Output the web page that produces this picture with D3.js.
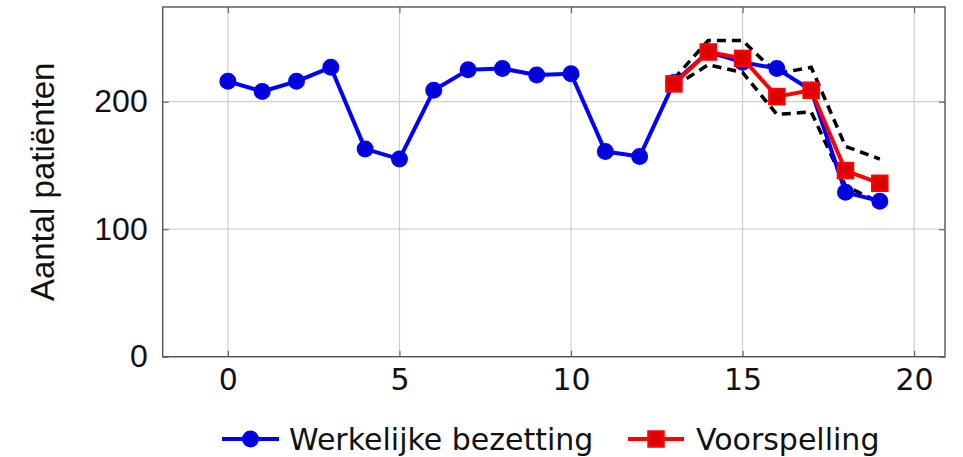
<!DOCTYPE html>
<html>
<head>
<meta charset="utf-8">
<script src="https://cdn.jsdelivr.net/npm/d3@7"></script>
<style>
  html, body { margin: 0; padding: 0; background: #fff; }
  svg { display: block; }
</style>
</head>
<body>
<svg id="chart" width="963" height="457"></svg>
<script>
// Daily bed occupancy: observed values and the forecast with its band
const dagen = [0, 1, 2, 3, 4, 5, 6, 7, 8, 9, 10, 11, 12, 13, 14, 15, 16, 17, 18, 19];
const werkelijk = [216, 208, 216, 227, 163, 155, 209, 225, 226, 221, 222, 161, 157, 215, 239, 231, 226, 209, 129, 122];
const voorspelDagen = [13, 14, 15, 16, 17, 18, 19];
const voorspelling = [214, 239, 234, 204, 209, 146, 136];
const bovengrens = [218, 248, 248, 222, 227, 165, 155];
const ondergrens = [212, 229, 223, 190, 192, 134, 121];
const xTicks = [0, 5, 10, 15, 20];
const yTicks = [0, 100, 200];

const svg = d3.select("#chart");
const plot = { left: 162.7, right: 945, top: 7, bottom: 356.7 };

const x = d3.scaleLinear().domain([-1.9, 20.9]).range([plot.left, plot.right]);
const y = d3.scaleLinear().domain([0, 274.3]).range([plot.bottom, plot.top]);

const sansNarrow = "'DejaVu Sans', sans-serif";
const sans = "'Liberation Sans', Arial, sans-serif";

// grid
const grid = svg.append("g");
grid.selectAll("line.gx").data(xTicks).join("line")
  .attr("x1", d => x(d)).attr("x2", d => x(d))
  .attr("y1", plot.top).attr("y2", plot.bottom)
  .attr("stroke", "#cfcfcf").attr("stroke-width", 1.2);
grid.selectAll("line.gy").data(yTicks).join("line")
  .attr("x1", plot.left).attr("x2", plot.right)
  .attr("y1", d => y(d)).attr("y2", d => y(d))
  .attr("stroke", "#cfcfcf").attr("stroke-width", 1.2);

// axes with inward ticks on all four sides
const tickLen = 6;
const axisColor = "#666";
svg.append("g").attr("transform", `translate(0,${plot.bottom})`)
  .call(d3.axisBottom(x).tickValues(xTicks).tickSizeInner(-tickLen).tickSizeOuter(0).tickPadding(12))
  .call(g => g.select(".domain").remove())
  .call(g => g.selectAll(".tick line").attr("stroke", axisColor).attr("stroke-width", 1.2))
  .call(g => g.selectAll(".tick text").attr("font-family", sansNarrow).attr("font-size", 30).attr("fill", "#111"));
svg.append("g").attr("transform", `translate(0,${plot.top})`)
  .call(d3.axisTop(x).tickValues(xTicks).tickSizeInner(-tickLen).tickSizeOuter(0).tickFormat(""))
  .call(g => g.select(".domain").remove())
  .call(g => g.selectAll(".tick line").attr("stroke", axisColor).attr("stroke-width", 1.2));
svg.append("g").attr("transform", `translate(${plot.left},0)`)
  .call(d3.axisLeft(y).tickValues(yTicks).tickSizeInner(-tickLen).tickSizeOuter(0).tickPadding(15))
  .call(g => g.select(".domain").remove())
  .call(g => g.selectAll(".tick line").attr("stroke", axisColor).attr("stroke-width", 1.2))
  .call(g => g.selectAll(".tick text").attr("font-family", sans).attr("font-size", 32).attr("fill", "#111"));
svg.append("g").attr("transform", `translate(${plot.right},0)`)
  .call(d3.axisRight(y).tickValues(yTicks).tickSizeInner(-tickLen).tickSizeOuter(0).tickFormat(""))
  .call(g => g.select(".domain").remove())
  .call(g => g.selectAll(".tick line").attr("stroke", axisColor).attr("stroke-width", 1.2));

svg.append("rect")
  .attr("x", plot.left).attr("y", plot.top)
  .attr("width", plot.right - plot.left).attr("height", plot.bottom - plot.top)
  .attr("fill", "none").attr("stroke", "#555").attr("stroke-width", 1.4);

// y label
svg.append("text")
  .attr("transform", `translate(54,${(plot.top + plot.bottom) / 2}) rotate(-90)`)
  .attr("text-anchor", "middle")
  .attr("font-family", sans).attr("font-size", 33).attr("fill", "#111")
  .text("Aantal patiënten");

const line = d3.line().x(d => x(d[0])).y(d => y(d[1]));

// forecast band (dashed)
[bovengrens, ondergrens].forEach(band => {
  svg.append("path")
    .datum(voorspelDagen.map((d, i) => [d, band[i]]))
    .attr("d", line).attr("fill", "none")
    .attr("stroke", "#000").attr("stroke-width", 3.5)
    .attr("stroke-dasharray", "9,6");
});

// observed
const obs = dagen.map((d, i) => [d, werkelijk[i]]);
svg.append("path").datum(obs).attr("d", line)
  .attr("fill", "none").attr("stroke", "#0000ff").attr("stroke-width", 4).attr("stroke-linejoin", "round");
svg.selectAll("circle.obs").data(obs).join("circle")
  .attr("cx", d => x(d[0])).attr("cy", d => y(d[1])).attr("r", 7.5)
  .attr("fill", "#0000d8").attr("stroke", "#0000ff").attr("stroke-width", 2);

// forecast
const fc = voorspelDagen.map((d, i) => [d, voorspelling[i]]);
svg.append("path").datum(fc).attr("d", line)
  .attr("fill", "none").attr("stroke", "#ff0000").attr("stroke-width", 4).attr("stroke-linejoin", "round");
const sq = 15;
svg.selectAll("rect.fc").data(fc).join("rect")
  .attr("x", d => x(d[0]) - sq / 2).attr("y", d => y(d[1]) - sq / 2)
  .attr("width", sq).attr("height", sq)
  .attr("fill", "#dd0000").attr("stroke", "#ff0000").attr("stroke-width", 2.5);

// legend
const ly = 439;
const leg = svg.append("g");
leg.append("line").attr("x1", 222).attr("x2", 279).attr("y1", ly).attr("y2", ly)
  .attr("stroke", "#0000ff").attr("stroke-width", 4);
leg.append("circle").attr("cx", 250.5).attr("cy", ly).attr("r", 7.5)
  .attr("fill", "#0000d8").attr("stroke", "#0000ff").attr("stroke-width", 2);
leg.append("text").attr("x", 289).attr("y", ly + 11)
  .attr("font-family", sansNarrow).attr("font-size", 30).attr("fill", "#111")
  .text("Werkelijke bezetting");
leg.append("line").attr("x1", 628).attr("x2", 684).attr("y1", ly).attr("y2", ly)
  .attr("stroke", "#ff0000").attr("stroke-width", 4);
leg.append("rect").attr("x", 656 - sq / 2).attr("y", ly - sq / 2).attr("width", sq).attr("height", sq)
  .attr("fill", "#dd0000").attr("stroke", "#ff0000").attr("stroke-width", 2.5);
leg.append("text").attr("x", 696).attr("y", ly + 11)
  .attr("font-family", sansNarrow).attr("font-size", 30).attr("fill", "#111")
  .text("Voorspelling");
</script>
</body>
</html>
